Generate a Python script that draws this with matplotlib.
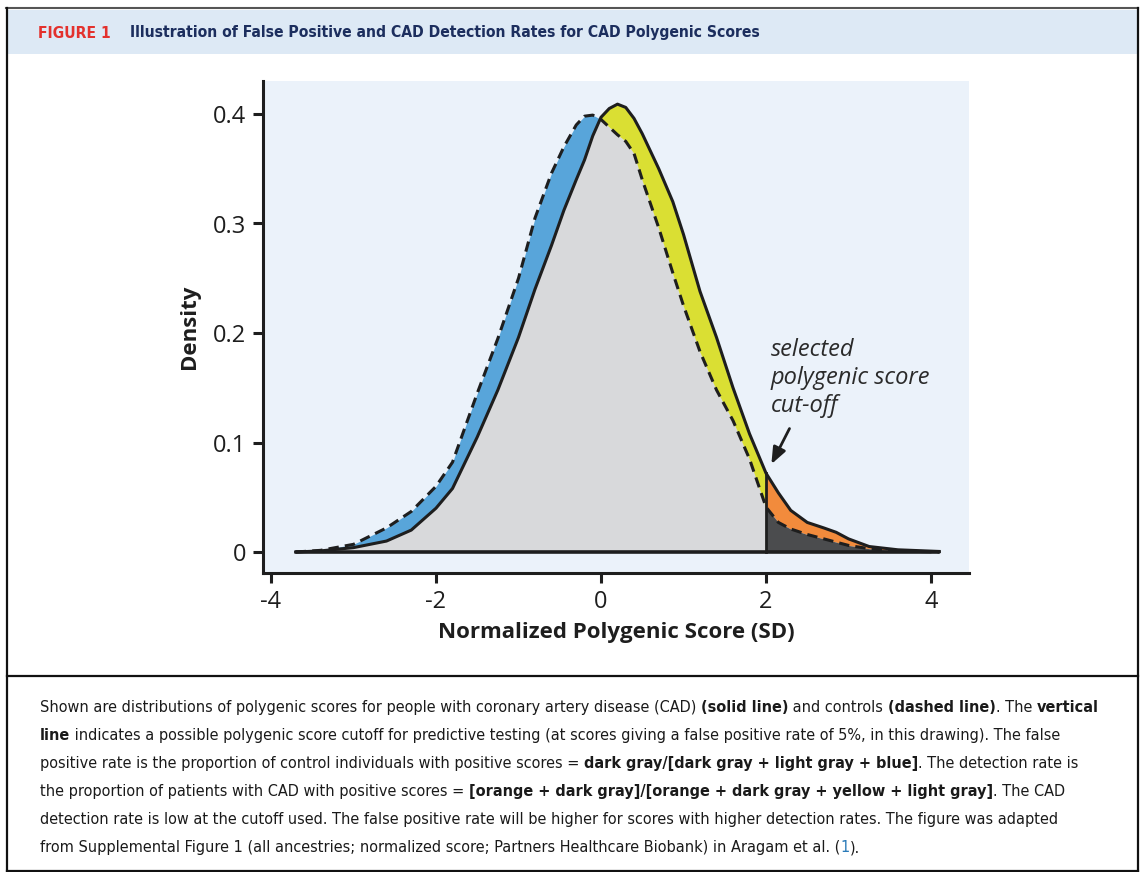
import matplotlib
matplotlib.use("Agg")
import matplotlib.pyplot as plt
from matplotlib.patches import Rectangle
from matplotlib.lines import Line2D
import numpy as np

# ---------------- data ----------------
score = [-3.7, -3.4, -3.0, -2.6, -2.3, -2.0, -1.8, -1.5, -1.25, -1.0, -0.8, -0.6,
         -0.45, -0.3, -0.2, -0.1, 0.0, 0.1, 0.2, 0.3, 0.4, 0.5, 0.6, 0.7, 0.87,
         1.0, 1.2, 1.4, 1.6, 1.8, 2.0, 2.15, 2.3, 2.5, 2.7, 2.85, 3.0, 3.25, 3.6, 4.1]
cad_density = [0.0, 0.001, 0.004, 0.010, 0.020, 0.040, 0.058, 0.105, 0.148, 0.196,
               0.240, 0.280, 0.312, 0.340, 0.358, 0.380, 0.397, 0.405, 0.409, 0.406,
               0.396, 0.382, 0.366, 0.350, 0.320, 0.290, 0.238, 0.196, 0.150, 0.108,
               0.072, 0.054, 0.038, 0.027, 0.022, 0.018, 0.012, 0.005, 0.002, 0.0005]
control_density = [0.0, 0.0015, 0.007, 0.022, 0.037, 0.060, 0.082, 0.145, 0.195, 0.250,
                   0.305, 0.346, 0.370, 0.390, 0.398, 0.399, 0.395, 0.388, 0.381, 0.375,
                   0.364, 0.340, 0.318, 0.296, 0.255, 0.225, 0.183, 0.148, 0.120, 0.085,
                   0.041, 0.027, 0.021, 0.016, 0.012, 0.009, 0.006, 0.003, 0.001, 0.0]
cutoff = 2.0
x_ticks = [-4, -2, 0, 2, 4]
x_tick_labels = ["-4", "-2", "0", "2", "4"]
y_ticks = [0, 0.1, 0.2, 0.3, 0.4]
y_tick_labels = ["0", "0.1", "0.2", "0.3", "0.4"]

title_tag = "FIGURE 1"
title_text = "Illustration of False Positive and CAD Detection Rates for CAD Polygenic Scores"
annotation = "selected\npolygenic score\ncut-off"

caption_lines = [
    [("Shown are distributions of polygenic scores for people with coronary artery disease (CAD) ", "n"),
     ("(solid line)", "b"), (" and controls ", "n"), ("(dashed line)", "b"), (". The ", "n"), ("vertical", "b")],
    [("line", "b"), (" indicates a possible polygenic score cutoff for predictive testing (at scores giving a false positive rate of 5%, in this drawing). The false", "n")],
    [("positive rate is the proportion of control individuals with positive scores = ", "n"),
     ("dark gray/[dark gray + light gray + blue]", "b"), (". The detection rate is", "n")],
    [("the proportion of patients with CAD with positive scores = ", "n"),
     ("[orange + dark gray]/[orange + dark gray + yellow + light gray]", "b"), (". The CAD", "n")],
    [("detection rate is low at the cutoff used. The false positive rate will be higher for scores with higher detection rates. The figure was adapted", "n")],
    [("from Supplemental Figure 1 (all ancestries; normalized score; Partners Healthcare Biobank) in Aragam et al. (", "n"),
     ("1", "l"), (").", "n")],
]

# ---------------- figure ----------------
W, H = 1142, 872
fig = plt.figure(figsize=(W / 100, H / 100), dpi=100)
fig.patch.set_facecolor("white")

def fx(px):
    return px / W

def fy(py):
    return 1 - py / H

# frame and title band
fig.patches.append(Rectangle((fx(6), fy(54)), fx(1138) - fx(6), fy(10) - fy(54),
                             transform=fig.transFigure, facecolor="#dde9f5", edgecolor="none", zorder=0))
fig.lines.append(Line2D([fx(6), fx(1138)], [fy(8), fy(8)], transform=fig.transFigure, color="#555555", lw=1.5))
fig.lines.append(Line2D([fx(7), fx(7)], [fy(8), fy(871)], transform=fig.transFigure, color="#111111", lw=1.6))
fig.lines.append(Line2D([fx(1138), fx(1138)], [fy(8), fy(871)], transform=fig.transFigure, color="#111111", lw=1.6))
fig.lines.append(Line2D([fx(7), fx(1138)], [fy(676), fy(676)], transform=fig.transFigure, color="#111111", lw=1.6))
fig.lines.append(Line2D([fx(7), fx(1138)], [fy(870.5), fy(870.5)], transform=fig.transFigure, color="#111111", lw=1.6))

renderer = fig.canvas.get_renderer()
COND = dict(family=["Liberation Sans Narrow", "DejaVu Sans"], fontstretch="condensed")

def seg_width(s, **kw):
    t1 = fig.text(0, 0, "a" + s + "a", **kw)
    t2 = fig.text(0, 0, "aa", **kw)
    w = t1.get_window_extent(renderer).width - t2.get_window_extent(renderer).width
    t1.remove(); t2.remove()
    return w

# title
tsize = 12.0
w = seg_width(title_text, fontsize=tsize, fontweight="bold", **COND)
tsize = min(tsize * (630 / w), 13.0)
fig.text(fx(38), fy(33), title_tag, fontsize=tsize, fontweight="bold",
         color="#e3312d", va="center", ha="left", **COND)
fig.text(fx(130), fy(33), title_text, fontsize=tsize, fontweight="bold",
         color="#1c2e5e", va="center", ha="left", **COND)

# caption
def style(kind):
    if kind == "b":
        return dict(fontweight="bold", color="#1a1a1a")
    if kind == "l":
        return dict(fontweight="normal", color="#2a7ab8")
    return dict(fontweight="normal", color="#1a1a1a")

csize = 12.0
w0 = sum(seg_width(s, fontsize=csize, **COND, **style(k)) for s, k in caption_lines[0])
csize = min(csize * (1057 / w0), 12.5)
for i, line in enumerate(caption_lines):
    xpos = 40.0
    ypos = 712 + 28 * i
    for s, k in line:
        fig.text(fx(xpos), fy(ypos), s, fontsize=csize, va="baseline", ha="left", **COND, **style(k))
        xpos += seg_width(s, fontsize=csize, **COND, **style(k))

# ---------------- axes ----------------
ax = fig.add_axes([fx(263), fy(573), fx(969) - fx(263), fy(81) - fy(573)])
ax.set_facecolor("#ebf2fa")
x_per_px = 1 / 82.5
ax.set_xlim(-4 - (271 - 263) * x_per_px, 4 + (969 - 931) * x_per_px)
ax.set_ylim(-(573 - 552) / 1095, (552 - 81) / 1095)

xs = np.array(score)
cad = np.array(cad_density)
ctl = np.array(control_density)
k = int(np.where(np.isclose(xs, cutoff))[0][0])
L = slice(0, k + 1)
R = slice(k, len(xs))

lower = np.minimum(cad, ctl)
ax.fill_between(xs[L], 0, lower[L], color="#d8d9db", lw=0, zorder=1)
ax.fill_between(xs[L], cad[L], ctl[L], where=ctl[L] >= cad[L], interpolate=True,
                color="#58a5da", lw=0, zorder=1)
ax.fill_between(xs[L], ctl[L], cad[L], where=cad[L] >= ctl[L], interpolate=True,
                color="#dadf33", lw=0, zorder=1)
ax.fill_between(xs[R], ctl[R], cad[R], color="#f28b3c", lw=0, zorder=1)
ax.fill_between(xs[R], 0, ctl[R], color="#4b4c4e", lw=0, zorder=1)

ax.plot([xs[0], xs[-1]], [0, 0], color="#1e1e1e", lw=2.6, solid_capstyle="round", zorder=3)
ax.plot(xs, cad, color="#1e1e1e", lw=2.2, solid_joinstyle="round", zorder=4)
ax.plot(xs, ctl, color="#1e1e1e", lw=2.2, ls=(0, (3.4, 2.0)), zorder=4)
ax.plot([cutoff, cutoff], [0, cad[k]], color="#1e1e1e", lw=2.0, zorder=4)

ax.annotate("", xy=(2.05, 0.078), xytext=(2.30, 0.115),
            arrowprops=dict(arrowstyle="-|>,head_length=1.0,head_width=0.4", color="#1e1e1e", lw=2.0),
            zorder=5)
ax.text(2.06, 0.195, annotation, family=["Open Sans", "DejaVu Sans"], style="italic",
        fontsize=17, color="#2a2a2a", va="top", ha="left", linespacing=1.22)

for sp in ["top", "right"]:
    ax.spines[sp].set_visible(False)
for sp in ["left", "bottom"]:
    ax.spines[sp].set_linewidth(2.2)
    ax.spines[sp].set_color("#1e1e1e")

ax.set_xticks(x_ticks)
ax.set_xticklabels(x_tick_labels)
ax.set_yticks(y_ticks)
ax.set_yticklabels(y_tick_labels)
ax.tick_params(direction="out", length=7, width=2.2, color="#1e1e1e", labelsize=17,
               labelcolor="#1e1e1e", pad=5)
for lab in ax.get_xticklabels() + ax.get_yticklabels():
    lab.set_family(["Open Sans", "DejaVu Sans"])

ax.set_xlabel("Normalized Polygenic Score (SD)", family=["Open Sans", "DejaVu Sans"],
              fontsize=16, fontweight="bold", color="#1e1e1e", labelpad=6)
ax.set_ylabel("Density", family=["Open Sans", "DejaVu Sans"], fontsize=16,
              fontweight="bold", color="#1e1e1e", labelpad=9)

fig.savefig("out.png", dpi=100, facecolor="white")
